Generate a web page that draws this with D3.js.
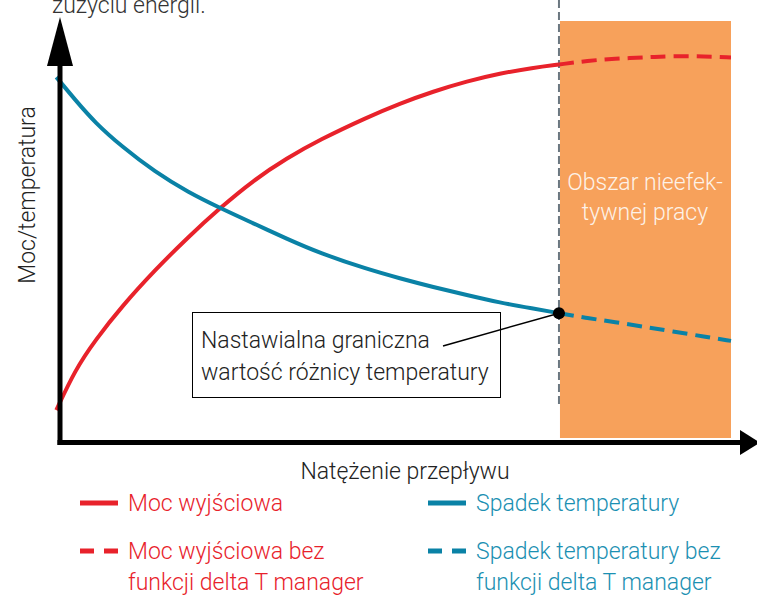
<!DOCTYPE html>
<html>
<head>
<meta charset="utf-8">
<script src="https://d3js.org/d3.v7.min.js"></script>
<style>
  body { margin: 0; background: #fff; }
  text { font-family: Roboto, "Noto Sans", sans-serif; font-weight: 300; }
</style>
</head>
<body>
<script>
// flow values (x) and curve values (y), abstract units 0-100
var flowSolid = [-0.4, 2.4, 5.4, 9.4, 14.3, 19.2, 24.0, 28.9, 33.9, 38.8, 45.8, 50.7, 55.7, 60.7, 65.6, 70.5, 74.4];
var flowDashed = [74.4, 78.7, 82.7, 87.2, 91.2, 96.1, 100];
var powerSolid = [7.1, 16.7, 23.8, 31.9, 40.5, 48.3, 55.3, 61.8, 67.1, 71.5, 76.8, 80.1, 83.0, 85.4, 87.3, 88.6, 89.4];
var powerDashed = [89.4, 90.3, 90.8, 91.1, 91.4, 91.35, 91.1];
var tempSolid = [86.4, 81.0, 75.5, 69.8, 63.8, 59.0, 55.2, 51.6, 47.9, 44.5, 40.7, 38.5, 36.4, 34.5, 32.7, 31.3, 30.2];
var tempDashed = [30.2, 29.0, 28.1, 26.9, 25.9, 24.6, 23.6];
var limitFlow = 74.4;
var areaEnd = 100;

var legendItems = [
  {label: ["Moc wyjściowa"], color: "#e8222b", text: "#e8222b", dash: false},
  {label: ["Spadek temperatury"], color: "#0a82a6", text: "#1b90b2", dash: false},
  {label: ["Moc wyjściowa bez", "funkcji delta T manager"], color: "#e8222b", text: "#e8222b", dash: true},
  {label: ["Spadek temperatury bez", "funkcji delta T manager"], color: "#0a82a6", text: "#1b90b2", dash: true}
];

var w = 757, h = 596;
var svg = d3.select("body").append("svg")
    .attr("width", w)
    .attr("height", h);

var x = d3.scaleLinear().domain([0, 100]).range([59, 731]);
var y = d3.scaleLinear().domain([0, 100]).range([440, 20]);

function pts(xs, ys) {
  return xs.map(function(d, i) { return [d, ys[i]]; });
}

var line = d3.line()
    .x(function(d) { return x(d[0]); })
    .y(function(d) { return y(d[1]); })
    .curve(d3.curveBasis);

// top text (cut off at the edge, as in the source)
svg.append("text")
    .attr("x", 52)
    .attr("y", 13)
    .attr("font-size", 23)
    .attr("fill", "#333")
    .text("zużyciu energii.");

// orange area
svg.append("rect")
    .attr("x", x(limitFlow) + 1)
    .attr("y", 21)
    .attr("width", x(areaEnd) - x(limitFlow) - 1)
    .attr("height", 438 - 21)
    .attr("fill", "#f7a15b");

svg.append("text")
    .attr("text-anchor", "middle")
    .attr("font-size", 23)
    .attr("fill", "#fdf2e8")
    .selectAll("tspan")
    .data(["Obszar nieefek-", "tywnej pracy"])
    .enter()
    .append("tspan")
    .attr("x", (x(limitFlow) + x(areaEnd)) / 2)
    .attr("y", function(d, i) { return 190 + i * 30; })
    .text(function(d) { return d; });

// grey dashed limit line
svg.append("line")
    .attr("x1", x(limitFlow))
    .attr("x2", x(limitFlow))
    .attr("y1", 0)
    .attr("y2", 407)
    .attr("stroke", "#6b7780")
    .attr("stroke-width", 2)
    .attr("stroke-dasharray", "8,4");

// curves
svg.append("path")
    .attr("d", line(pts(flowSolid, powerSolid)))
    .attr("fill", "none")
    .attr("stroke", "#e8222b")
    .attr("stroke-width", 4);
svg.append("path")
    .attr("d", line(pts(flowDashed, powerDashed)))
    .attr("fill", "none")
    .attr("stroke", "#e8222b")
    .attr("stroke-width", 4)
    .attr("stroke-dasharray", "15,8");
svg.append("path")
    .attr("d", line(pts(flowSolid, tempSolid)))
    .attr("fill", "none")
    .attr("stroke", "#0a82a6")
    .attr("stroke-width", 4);
svg.append("path")
    .attr("d", line(pts(flowDashed, tempDashed)))
    .attr("fill", "none")
    .attr("stroke", "#0a82a6")
    .attr("stroke-width", 4)
    .attr("stroke-dasharray", "15,8");

// axes with arrows
svg.append("line")
    .attr("x1", 60).attr("x2", 60)
    .attr("y1", 445).attr("y2", 60)
    .attr("stroke", "#000")
    .attr("stroke-width", 5);
svg.append("path")
    .attr("d", "M47,66 L60,17 L73,66 Z")
    .attr("fill", "#000");
svg.append("line")
    .attr("x1", 57.5).attr("x2", 745)
    .attr("y1", 442.5).attr("y2", 442.5)
    .attr("stroke", "#000")
    .attr("stroke-width", 5);
svg.append("path")
    .attr("d", "M740,430 L760,442.5 L740,455 Z")
    .attr("fill", "#000");

// axis labels
svg.append("text")
    .attr("transform", "translate(35,195) rotate(-90)")
    .attr("text-anchor", "middle")
    .attr("font-size", 23)
    .attr("fill", "#222")
    .text("Moc/temperatura");
svg.append("text")
    .attr("x", 405)
    .attr("y", 479)
    .attr("text-anchor", "middle")
    .attr("font-size", 23)
    .attr("fill", "#222")
    .text("Natężenie przepływu");

// annotation
svg.append("line")
    .attr("x1", 443).attr("y1", 346)
    .attr("x2", x(limitFlow)).attr("y2", y(tempSolid[tempSolid.length - 1]))
    .attr("stroke", "#000")
    .attr("stroke-width", 1.5);
svg.append("circle")
    .attr("cx", x(limitFlow))
    .attr("cy", y(tempSolid[tempSolid.length - 1]))
    .attr("r", 6)
    .attr("fill", "#000");
svg.append("rect")
    .attr("x", 192.5).attr("y", 312.5)
    .attr("width", 308).attr("height", 85)
    .attr("fill", "none")
    .attr("stroke", "#000")
    .attr("stroke-width", 1);
svg.append("text")
    .attr("font-size", 23)
    .attr("fill", "#222")
    .selectAll("tspan")
    .data(["Nastawialna graniczna", "wartość różnicy temperatury"])
    .enter()
    .append("tspan")
    .attr("x", 201)
    .attr("y", function(d, i) { return 348 + i * 32; })
    .text(function(d) { return d; });

// legend
var lx = [80, 428], ly = [503, 551];
legendItems.forEach(function(d, i) {
  var gx = lx[i % 2], gy = ly[Math.floor(i / 2)];
  svg.append("line")
      .attr("x1", gx).attr("x2", gx + 38)
      .attr("y1", gy).attr("y2", gy)
      .attr("stroke", d.color)
      .attr("stroke-width", 5)
      .attr("stroke-dasharray", d.dash ? "14,10" : null);
  svg.append("text")
      .attr("font-size", 23)
      .attr("fill", d.text)
      .selectAll("tspan")
      .data(d.label)
      .enter()
      .append("tspan")
      .attr("x", gx + 48)
      .attr("y", function(t, j) { return gy + 8 + j * 31; })
      .text(function(t) { return t; });
});
</script>
</body>
</html>
